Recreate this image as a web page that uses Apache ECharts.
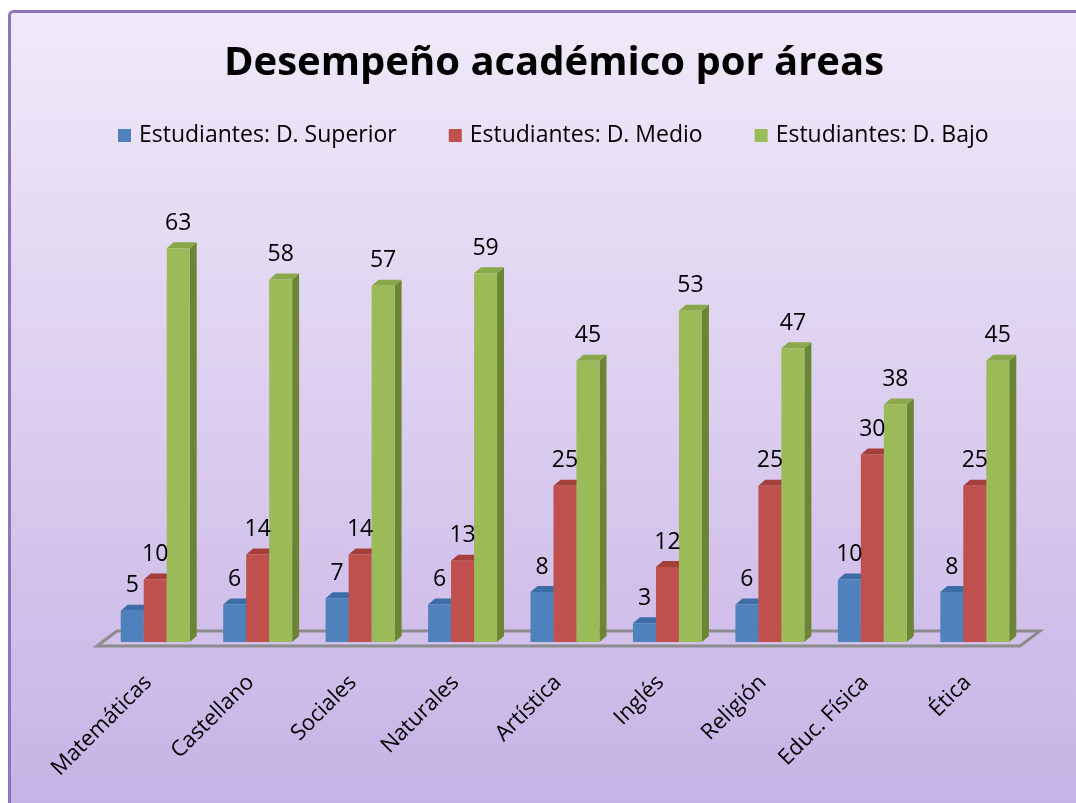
<!DOCTYPE html>
<html><head><meta charset="utf-8">
<script src="https://cdn.jsdelivr.net/npm/echarts@6/dist/echarts.min.js"></script>
<style>html,body{margin:0;padding:0;background:#fff}#c{width:1076px;height:803px}</style>
</head><body><div id="c"></div>
<script>
var categories = ['Matemáticas','Castellano','Sociales','Naturales','Artística','Inglés','Religión','Educ. Física','Ética'];
var superior = [5,6,7,6,8,3,6,10,8];
var medio = [10,14,14,13,25,12,25,30,25];
var bajo = [63,58,57,59,45,53,47,38,45];
var seriesNames = ['Estudiantes: D. Superior','Estudiantes: D. Medio','Estudiantes: D. Bajo'];

var palette = [
  {front:'#4f81bd', top:'#3d6da6', side:'#2f5688'},
  {front:'#c0504d', top:'#a53f3c', side:'#8a302e'},
  {front:'#9bbb59', top:'#89a84a', side:'#6b8534'}
];
var FONT = '"Open Sans", sans-serif';

function makeRender(idx){
  var c = palette[idx];
  return function(params, api){
    var xi = api.value(0), v = api.value(1);
    var base = api.coord([xi, 0]);
    var top = api.coord([xi, v]);
    var band = api.size([1, 0])[0];
    var w = band * 0.2244;
    var x0 = base[0] - 1.5 * w + idx * w;
    var dx = 7, dy = 6;
    var ty = top[1], by = base[1];
    return {
      type: 'group',
      children: [
        {type:'polygon', shape:{points:[[x0+w,ty],[x0+w+dx,ty-dy],[x0+w+dx,by-dy],[x0+w,by]]}, style:{fill:c.side}},
        {type:'polygon', shape:{points:[[x0,ty],[x0+dx,ty-dy],[x0+w+dx,ty-dy],[x0+w,ty]]}, style:{fill:c.top}},
        {type:'rect', shape:{x:x0, y:ty, width:w, height:by-ty}, style:{fill:c.front}},
        {type:'text', z2:100, style:{text:String(v), x:x0+w/2, y:ty-dy-19, align:'center', verticalAlign:'middle', fill:'#000', font:'23px ' + FONT}}
      ]
    };
  };
}

function seriesData(arr){ return arr.map(function(v,i){ return [i, v]; }); }

var chart = echarts.init(document.getElementById('c'), null, {renderer:'canvas'});
chart.setOption({
  backgroundColor: '#ffffff',
  animation: false,
  graphic: [
    {type:'rect', z:-10, silent:true, shape:{x:9.5, y:11.5, width:1080, height:800, r:4},
     style:{stroke:'#8e74bb', lineWidth:3,
       fill:{type:'linear', x:0, y:0, x2:0, y2:1, colorStops:[{offset:0, color:'#f0eaf9'},{offset:1, color:'#c6b2e5'}]}}},
    {type:'polygon', z:-5, silent:true, shape:{points:[[97,646],[1020,646],[1040,631],[117,631]]},
     style:{fill:'rgba(255,255,255,0.06)', stroke:'#8c8c8c', lineWidth:3}}
  ],
  title: {
    text: 'Desempeño académico por áreas',
    left: 549, top: 39, textAlign: 'center',
    textStyle: {fontFamily: FONT, fontWeight: 'bold', fontSize: 40, color: '#000'}
  },
  legend: {
    data: seriesNames.map(function(n,i){ return {name:n, itemStyle:{color:palette[i].front}}; }),
    left: 113, top: 119,
    icon: 'rect', itemWidth: 13, itemHeight: 13, itemGap: 52,
    textStyle: {fontFamily: FONT, fontSize: 23, color: '#000', padding:[0,0,0,3]}
  },
  grid: {left: 104, right: 50, top: 204.5, bottom: 161, containLabel: false},
  xAxis: {
    type: 'category', data: categories,
    axisLine: {show:false}, axisTick: {show:false},
    axisLabel: {rotate: 45, margin: 30, interval: 0, fontFamily: FONT, fontSize: 22, color:'#000', padding:[0,10,0,0]}
  },
  yAxis: {type:'value', min:0, max:70, show:false, splitLine:{show:false}},
  series: [
    {name: seriesNames[0], type:'custom', renderItem: makeRender(0), data: seriesData(superior), encode:{x:0,y:1}, itemStyle:{color:palette[0].front}},
    {name: seriesNames[1], type:'custom', renderItem: makeRender(1), data: seriesData(medio), encode:{x:0,y:1}, itemStyle:{color:palette[1].front}},
    {name: seriesNames[2], type:'custom', renderItem: makeRender(2), data: seriesData(bajo), encode:{x:0,y:1}, itemStyle:{color:palette[2].front}}
  ]
});
</script></body></html>
